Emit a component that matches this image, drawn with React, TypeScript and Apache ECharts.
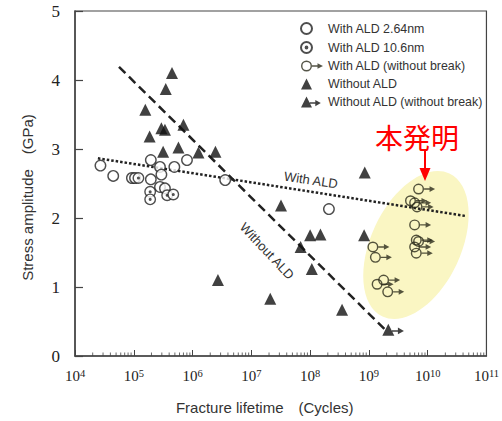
import { useEffect, useRef } from 'react';
import * as echarts from 'echarts';

// ---- axis ticks ----
const xDecades = [4, 5, 6, 7, 8, 9, 10, 11];
const minorMultipliers = [2, 3, 4, 5, 6, 7, 8, 9];
const yTickValues = [0, 1, 2, 3, 4, 5];

// ---- legend names ----
const seriesNames = [
  'With ALD 2.64nm',
  'With ALD 10.6nm',
  'With ALD (without break)',
  'Without ALD',
  'Without ALD (without break)',
];

// ---- data: [cycles, stress GPa] ----
const withAld264 = [
  [2.71e4, 2.76],
  [4.47e4, 2.61],
  [9.3e4, 2.58],
  [1.05e5, 2.58],
  [1.95e5, 2.56],
  [1.95e5, 2.84],
  [2.79e5, 2.74],
  [2.95e5, 2.63],
  [2.79e5, 2.45],
  [3.39e5, 2.43],
  [4.9e5, 2.74],
  [8.04e5, 2.84],
  [3.59e6, 2.55],
  [2.09e8, 2.13],
];
const withAld106 = [
  [1.2e5, 2.58],
  [1.9e5, 2.38],
  [1.9e5, 2.27],
  [3.7e5, 2.33],
  [4.7e5, 2.34],
];
const withAldNoBreak = [
  [7.0e9, 2.42],
  [5.1e9, 2.25],
  [6.0e9, 2.22],
  [6.6e9, 2.16],
  [6.0e9, 1.9],
  [6.4e9, 1.68],
  [7.0e9, 1.66],
  [6.0e9, 1.58],
  [6.4e9, 1.49],
  [1.17e9, 1.58],
  [1.29e9, 1.43],
  [1.38e9, 1.04],
  [1.78e9, 1.1],
  [2.09e9, 0.93],
];
const withoutAld = [
  [4.47e5, 4.1],
  [3.5e5, 3.87],
  [1.57e5, 3.57],
  [7.0e5, 3.35],
  [2.95e5, 3.3],
  [3.39e5, 3.28],
  [1.86e5, 3.18],
  [3.16e5, 2.96],
  [5.75e5, 3.02],
  [1.26e6, 2.95],
  [2.45e6, 2.96],
  [2.7e6, 1.1],
  [2.1e7, 0.83],
  [3.2e7, 2.18],
  [6.9e7, 1.58],
  [1.0e8, 1.75],
  [1.5e8, 1.76],
  [1.07e8, 1.26],
  [3.5e8, 0.67],
  [8.5e8, 2.66],
  [8.3e8, 1.75],
];
const withoutAldNoBreak = [[2.14e9, 0.38]];

// ---- trend lines ----
const withAldTrend = [
  [2.45e4, 2.865],
  [4.37e10, 2.03],
];
const withoutAldTrend = [
  [5.6e4, 4.19],
  [2.0e9, 0.36],
];

// ---- annotation texts ----
const withAldLabel = 'With ALD';
const withoutAldLabel = 'Without ALD';
const inventionLabel = '本発明';

// ---- symbol shapes ----
const CIRCLE = 'M0 5A5 5 0 1 0 10 5A5 5 0 1 0 0 5Z';
const INNER_HOLE = 'M1.3 5A3.7 3.7 0 1 1 8.7 5A3.7 3.7 0 1 1 1.3 5Z';
const DOT = 'M4.2 5A0.8 0.8 0 1 0 5.8 5A0.8 0.8 0 1 0 4.2 5Z';
const ARROW = 'M10 4.4L15 4.4L15 2.4L20 5L15 7.6L15 5.6L10 5.6Z';
const TRI = 'M5 0L10 10L0 10Z';
const TRI_ARROW = 'M8 5.3L13 5.3L13 3.2L18 6L13 8.8L13 6.7L8 6.7Z';
const PAD = 'M20 10L20 10';

const SYM_DOT_CIRCLE = 'path://' + CIRCLE + DOT;
const SYM_RING_ARROW = 'path://' + CIRCLE + INNER_HOLE + ARROW;
const SYM_TRI_ARROW = 'path://' + TRI + TRI_ARROW;

const serif = '"Liberation Serif", "Times New Roman", serif';
const sans = '"Liberation Sans", Arial, sans-serif';

export default function App() {
  const ref = useRef<HTMLDivElement>(null);

  useEffect(() => {
    const chart = echarts.init(ref.current!, undefined, { renderer: 'svg' });
    const minorTicks = xDecades
      .slice(0, -1)
      .flatMap((e) => minorMultipliers.map((k) => [k * Math.pow(10, e), 0]));

    const option: any = {
      animation: false,
      backgroundColor: '#fff',
      grid: {
        left: 75,
        right: 8,
        top: 11,
        bottom: 65,
        show: true,
        borderColor: '#444',
        borderWidth: 1.2,
      },
      legend: {
        orient: 'vertical',
        left: 295,
        top: 17,
        padding: 5,
        itemWidth: 22,
        itemHeight: 11,
        itemGap: 6,
        selectedMode: false,
        textStyle: { fontSize: 12.4, fontFamily: sans, color: '#333' },
        data: [
          { name: seriesNames[0], icon: 'path://' + CIRCLE + PAD },
          { name: seriesNames[1], icon: 'path://' + CIRCLE + DOT + PAD },
          { name: seriesNames[2], icon: SYM_RING_ARROW },
          { name: seriesNames[3], icon: 'path://' + TRI + PAD },
          { name: seriesNames[4], icon: 'path://' + TRI + TRI_ARROW + PAD },
        ],
      },
      xAxis: {
        type: 'log',
        logBase: 10,
        min: Math.pow(10, xDecades[0]),
        max: Math.pow(10, xDecades[xDecades.length - 1]),
        splitNumber: xDecades.length - 1,
        name: 'Fracture lifetime\u3000(Cycles)',
        nameLocation: 'middle',
        nameGap: 44,
        nameTextStyle: { fontSize: 15, fontFamily: sans, color: '#333', padding: [0, 32, 0, 0] },
        axisLine: { lineStyle: { color: '#444', width: 1.5 } },
        axisTick: { inside: true, length: 6, lineStyle: { color: '#444', width: 1 } },
        splitLine: { show: false },
        axisLabel: {
          margin: 12,
          showMinLabel: true,
          showMaxLabel: true,
          formatter: (v: number) => `{b|10}{s|${Math.round(Math.log10(v))}}`,
          rich: {
            b: { fontSize: 15, fontFamily: serif, color: '#222' },
            s: { fontSize: 10.5, fontFamily: serif, color: '#222', verticalAlign: 'top' },
          },
        },
      },
      yAxis: {
        type: 'value',
        min: yTickValues[0],
        max: yTickValues[yTickValues.length - 1],
        interval: 1,
        name: 'Stress amplitude\u3000(GPa)',
        nameLocation: 'middle',
        nameGap: 40,
        nameTextStyle: { fontSize: 15, fontFamily: sans, color: '#333', padding: [0, 28, 0, 0] },
        axisLine: { show: true, lineStyle: { color: '#444', width: 1.5 } },
        axisTick: { show: true, inside: true, length: 8, lineStyle: { color: '#444', width: 1.2 } },
        splitLine: { show: false },
        axisLabel: { margin: 15, fontSize: 17, fontFamily: serif, color: '#222' },
      },
      graphic: [
        {
          type: 'ellipse',
          x: 416,
          y: 245,
          rotation: (-25 * Math.PI) / 180,
          shape: { cx: 0, cy: 0, rx: 45, ry: 79 },
          style: { fill: '#faf6c3' },
          z: 0,
          silent: true,
        },
        {
          type: 'text',
          x: 417,
          y: 137,
          z: 10,
          style: {
            text: inventionLabel,
            fill: '#ff0000',
            fontSize: 28,
            fontFamily: '"Noto Sans CJK JP", sans-serif',
            align: 'center',
            verticalAlign: 'middle',
          },
        },
        {
          type: 'line',
          z: 10,
          shape: { x1: 425, y1: 151, x2: 425, y2: 170 },
          style: { stroke: '#ff0000', lineWidth: 2 },
        },
        {
          type: 'polygon',
          z: 10,
          shape: { points: [[419.5, 168], [430.5, 168], [425, 181]] },
          style: { fill: '#ff0000' },
        },
        {
          type: 'text',
          x: 311,
          y: 180,
          z: 10,
          rotation: (-8.5 * Math.PI) / 180,
          style: {
            text: withAldLabel,
            fill: '#333',
            fontSize: 13,
            fontFamily: sans,
            align: 'center',
            verticalAlign: 'middle',
          },
        },
        {
          type: 'text',
          x: 267,
          y: 251,
          z: 10,
          rotation: (-46.8 * Math.PI) / 180,
          style: {
            text: withoutAldLabel,
            fill: '#333',
            fontSize: 13,
            fontFamily: sans,
            align: 'center',
            verticalAlign: 'middle',
          },
        },
      ],
      series: [
        {
          name: 'With ALD trend',
          type: 'line',
          data: withAldTrend,
          symbol: 'none',
          z: 1,
          silent: true,
          lineStyle: { color: '#222', width: 2.5, type: [2.5, 2] },
        },
        {
          name: 'Without ALD trend',
          type: 'line',
          data: withoutAldTrend,
          symbol: 'none',
          z: 1,
          silent: true,
          lineStyle: { color: '#222', width: 2.5, type: [9, 5] },
        },
        {
          name: 'minor ticks',
          type: 'scatter',
          data: minorTicks,
          symbol: 'rect',
          symbolSize: [1, 3.5],
          symbolOffset: [0, -1.75],
          itemStyle: { color: '#444' },
          silent: true,
          z: 3,
        },
        {
          name: seriesNames[2],
          type: 'scatter',
          data: withAldNoBreak,
          symbol: SYM_RING_ARROW,
          symbolSize: [22, 11],
          symbolOffset: [5.5, 0],
          itemStyle: { color: '#2a2a1a' },
          z: 3,
        },
        {
          name: seriesNames[3],
          type: 'scatter',
          data: withoutAld,
          symbol: 'triangle',
          symbolSize: [12, 12],
          itemStyle: { color: '#111' },
          z: 3,
        },
        {
          name: seriesNames[4],
          type: 'scatter',
          data: withoutAldNoBreak,
          symbol: SYM_TRI_ARROW,
          symbolSize: [21.6, 12],
          symbolOffset: [4.8, 0],
          itemStyle: { color: '#111' },
          z: 3,
        },
        {
          name: seriesNames[0],
          type: 'scatter',
          data: withAld264,
          symbol: 'circle',
          symbolSize: 10.5,
          itemStyle: { color: '#fff', borderColor: '#222', borderWidth: 1.4 },
          z: 4,
        },
        {
          name: seriesNames[1],
          type: 'scatter',
          data: withAld106,
          symbol: SYM_DOT_CIRCLE,
          symbolSize: 10.5,
          itemStyle: { color: '#fff', borderColor: '#222', borderWidth: 1.4 },
          z: 4,
        },
      ],
    };

    chart.setOption(option);
    return () => chart.dispose();
  }, []);

  return (
    <div
      ref={ref}
      style={{ position: 'absolute', left: 0, top: 0, width: 502, height: 421 }}
    />
  );
}
